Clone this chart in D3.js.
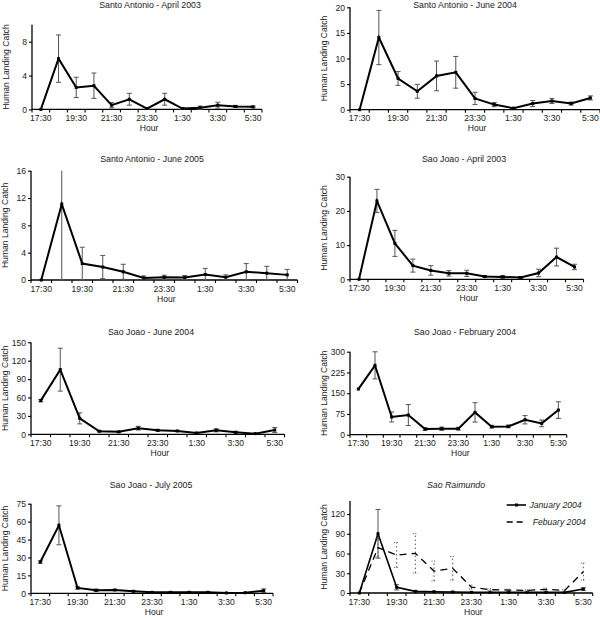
<!DOCTYPE html>
<html><head><meta charset="utf-8">
<script src="https://cdn.jsdelivr.net/npm/d3@7"></script>
<style>
body{margin:0;background:#fff;}
svg{display:block;font-family:"Liberation Sans",Arial,sans-serif;}
</style></head>
<body><svg id="c" width="600" height="618"></svg>
<script>
const hours = ["17:30","18:30","19:30","20:30","21:30","22:30","23:30","0:30","1:30","2:30","3:30","4:30","5:30"];
const labelledHours = ["17:30","19:30","21:30","23:30","1:30","3:30","5:30"];

const saApr03 = [0, 6.0, 2.6, 2.8, 0.5, 1.2, 0.1, 1.2, 0.1, 0.2, 0.5, 0.35, 0.3];
const saApr03Err = [0, 2.8, 1.2, 1.5, 0.3, 0.7, 0.1, 0.7, 0.1, 0.2, 0.35, 0.12, 0.1];
const saJun04 = [0, 14.1, 6.1, 3.6, 6.6, 7.3, 2.2, 1.0, 0.3, 1.2, 1.7, 1.2, 2.3];
const saJun04Err = [0, 5.3, 1.35, 1.35, 2.9, 3.1, 1.2, 0.4, 0.1, 0.6, 0.5, 0.3, 0.4];
const saJun05 = [0, 11.1, 2.4, 1.9, 1.2, 0.3, 0.4, 0.35, 0.8, 0.4, 1.2, 1.0, 0.75];
const saJun05Err = [0, 11.1, 2.4, 1.7, 1.1, 0.3, 0.3, 0.3, 0.9, 0.35, 1.2, 1.0, 0.8];
const sjApr03 = [0, 22.9, 10.5, 4.0, 2.6, 1.75, 1.75, 0.8, 0.7, 0.5, 1.85, 6.5, 3.6];
const sjApr03Err = [0, 3.4, 3.8, 1.9, 1.4, 0.8, 0.9, 0.3, 0.4, 0.3, 1.1, 2.6, 0.8];
const sjJun04 = [54.9, 105.4, 26, 5, 4, 10, 6.5, 5.4, 2.2, 6.5, 3.3, 1.1, 7];
const sjJun04Err = [2, 35, 9, 1, 1, 3, 1.5, 1, 0.5, 2.5, 1.5, 0.5, 4];
const sjFeb04 = [165, 250.6, 64, 71, 20.5, 21.7, 21.7, 80.7, 29, 30, 54, 41, 89];
const sjFeb04Err = [0, 49, 18, 38, 5, 6, 5, 35, 5, 5, 15, 12, 30];
const sjJul05 = [26.2, 56.9, 4.5, 2.5, 2.8, 1.7, 0.8, 0.8, 0.8, 0.8, 0.3, 0.5, 2.2];
const sjJul05Err = [1, 16.3, 1, 1, 0.5, 0.5, 0.3, 0.3, 0.3, 0.3, 0.2, 0.2, 1.5];
const srJan04 = [0, 90, 8.6, 2.5, 2, 1.5, 1, 1, 1, 1, 1, 1, 6];
const srJan04Err = [0, 37, 4, 1, 0.5, 0.5, 0.3, 0.3, 0.3, 0.3, 0.3, 0.3, 2];
const srFeb04 = [0, 68.9, 57.7, 60.3, 33.4, 37.5, 9, 5, 4.5, 4, 5.5, 4, 32.4];
const srFeb04Err = [0, 14, 19, 30, 15, 18, 3, 1.5, 1.5, 1, 2, 1.5, 13];

const titles = ["Santo Antonio - April 2003","Santo Antonio - June 2004","Santo Antonio - June 2005","Sao Joao - April 2003","Sao Joao - June 2004","Sao Joao - February 2004","Sao Joao - July 2005","Sao Raimundo"];
const yTicks = [[0,4,8],[0,5,10,15,20],[0,4,8,12,16],[0,10,20,30],[0,30,60,90,120,150],[0,75,150,225,300],[0,15,30,45,60,75],[0,30,60,90,120]];
const yMax = [10,20,16,30,150,300,75,140];
const legendNames = ["January 2004","Febuary 2004"];

const panels = [
  {x0:32,x1:262,yb:109.4,yt:24.8,ty:5,tx:150,series:[{v:saApr03,e:saApr03Err}]},
  {x0:350,x1:600,yb:109.7,yt:7.3,ty:5,tx:465,series:[{v:saJun04,e:saJun04Err}]},
  {x0:31,x1:297.5,yb:280,yt:170.7,ty:159.3,tx:152,series:[{v:saJun05,e:saJun05Err}]},
  {x0:350,x1:583.5,yb:279.3,yt:176.7,ty:159.3,tx:464,series:[{v:sjApr03,e:sjApr03Err}]},
  {x0:31,x1:284.5,yb:434.3,yt:342.3,ty:331.7,tx:151,series:[{v:sjJun04,e:sjJun04Err}]},
  {x0:350,x1:566.7,yb:434.7,yt:351.7,ty:331.7,tx:465,series:[{v:sjFeb04,e:sjFeb04Err}]},
  {x0:31,x1:273,yb:593.3,yt:503.7,ty:485,tx:151,series:[{v:sjJul05,e:sjJul05Err}]},
  {x0:350,x1:592.7,yb:593,yt:500.9,ty:485,tx:456,italic:true,
   series:[{v:srJan04,e:srJan04Err,lw:1.6,marker:true},{v:srFeb04,e:srFeb04Err,dash:"7,5",errDash:"1.5,2.5",lw:1.3,marker:false}]}
];

const svg = d3.select("#c");
const FS = 8.6;

panels.forEach((p,i)=>{
  const g = svg.append("g");
  const x = d3.scaleBand().domain(hours).range([p.x0,p.x1]).padding(0);
  const cx = h => x(h) + x.bandwidth()/2;
  const y = d3.scaleLinear().domain([0,yMax[i]]).range([p.yb,p.yt]);

  g.append("text").attr("x",p.tx).attr("y",p.ty).attr("dy","0.35em")
    .attr("text-anchor","middle").attr("font-size",8.8).attr("fill","#222")
    .attr("font-style",p.italic?"italic":"normal").text(titles[i]);

  const ya = d3.axisLeft(y).tickValues(yTicks[i]).tickSize(3).tickPadding(2).tickFormat(d3.format("d"));
  const yg = g.append("g").attr("transform",`translate(${p.x0},0)`).call(ya);
  yg.select(".domain").attr("d",`M0,${p.yt}V${p.yb}`).attr("stroke","#000").attr("stroke-width",1.3);
  yg.selectAll(".tick line").attr("stroke","#000").attr("stroke-width",1.1);
  yg.selectAll(".tick text").attr("font-size",FS).attr("fill","#222").attr("font-family","Liberation Sans, Arial, sans-serif");

  const xg = g.append("g");
  xg.append("line").attr("x1",p.x0).attr("x2",p.x1).attr("y1",p.yb).attr("y2",p.yb).attr("stroke","#000").attr("stroke-width",1.3);
  const bounds = hours.map(h=>x(h)).concat([p.x1]);
  xg.selectAll("line.t").data(bounds).join("line").attr("class","t")
    .attr("x1",d=>d).attr("x2",d=>d).attr("y1",p.yb).attr("y2",p.yb+3).attr("stroke","#000").attr("stroke-width",1.1);
  xg.selectAll("text.l").data(labelledHours).join("text").attr("class","l")
    .attr("x",d=>cx(d)).attr("y",p.yb+8.5).attr("dy","0.35em").attr("text-anchor","middle")
    .attr("font-size",FS).attr("fill","#222").text(d=>d);
  g.append("text").attr("x",(p.x0+p.x1)/2+2).attr("y",p.yb+18.5).attr("dy","0.35em").attr("text-anchor","middle")
    .attr("font-size",FS).attr("fill","#222").text("Hour");

  const lx = p.x0 - 26;
  const ly = (p.yb+p.yt)/2;
  g.append("text").attr("transform",`translate(${lx},${ly}) rotate(-90)`).attr("dy","0.35em")
    .attr("text-anchor","middle").attr("font-size",FS).attr("fill","#222").text("Human Landing Catch");

  p.series.forEach(s=>{
    const pts = hours.map((h,k)=>({h,v:s.v[k],e:s.e[k]}));
    const eg = g.append("g");
    pts.forEach(d=>{
      if(!d.e) return;
      const lo = Math.max(0,d.v-d.e), hi = Math.min(yMax[i], d.v+d.e);
      const X = cx(d.h);
      const col = "#555";
      eg.append("line").attr("x1",X).attr("x2",X).attr("y1",y(lo)).attr("y2",y(hi))
        .attr("stroke",col).attr("stroke-width",1).attr("stroke-dasharray",s.errDash||null);
      if(d.v+d.e <= yMax[i]) eg.append("line").attr("x1",X-2.5).attr("x2",X+2.5).attr("y1",y(hi)).attr("y2",y(hi))
        .attr("stroke",col).attr("stroke-width",1).attr("stroke-dasharray",s.errDash?"1,1.5":null);
      if(d.v-d.e >= 0) eg.append("line").attr("x1",X-2.5).attr("x2",X+2.5).attr("y1",y(lo)).attr("y2",y(lo))
        .attr("stroke",col).attr("stroke-width",1).attr("stroke-dasharray",s.errDash?"1,1.5":null);
    });
    const line = d3.line().x(d=>cx(d.h)).y(d=>y(d.v));
    g.append("path").datum(pts).attr("d",line).attr("fill","none").attr("stroke","#000")
      .attr("stroke-width",s.lw||2).attr("stroke-linejoin","miter").attr("stroke-dasharray",s.dash||null);
    if(s.marker!==false){
      g.selectAll(null).data(pts).join("rect")
        .attr("x",d=>cx(d.h)-1.5).attr("y",d=>y(d.v)-1.5).attr("width",3).attr("height",3).attr("fill","#000");
    }
  });

  if(p.italic){
    const lg = g.append("g");
    lg.append("line").attr("x1",506.7).attr("x2",526).attr("y1",505).attr("y2",505).attr("stroke","#000").attr("stroke-width",1.6);
    lg.append("rect").attr("x",515).attr("y",503.5).attr("width",3).attr("height",3).attr("fill","#000");
    lg.append("text").attr("x",529.5).attr("y",505).attr("dy","0.35em").attr("font-size",FS).attr("font-style","italic").attr("fill","#222").text(legendNames[0]);
    lg.append("line").attr("x1",506.7).attr("x2",523).attr("y1",522).attr("y2",522).attr("stroke","#000").attr("stroke-width",1.3).attr("stroke-dasharray","6,4");
    lg.append("text").attr("x",532.7).attr("y",522).attr("dy","0.35em").attr("font-size",FS).attr("font-style","italic").attr("fill","#222").text(legendNames[1]);
  }
});
</script></body></html>
